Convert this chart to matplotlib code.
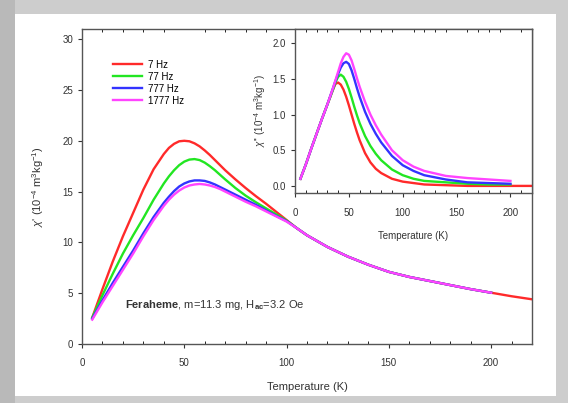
import matplotlib
matplotlib.use("Agg")
import matplotlib.pyplot as plt
from matplotlib.patches import Rectangle
from matplotlib.ticker import MultipleLocator, FormatStrFormatter

plt.rcParams["font.family"] = ["Liberation Sans", "DejaVu Sans"]
plt.rcParams["mathtext.fontset"] = "custom"
plt.rcParams["mathtext.rm"] = "Liberation Sans"
plt.rcParams["mathtext.it"] = "Liberation Sans:italic"
plt.rcParams["mathtext.bf"] = "Liberation Sans:bold"

# Main panel: chi' vs temperature
T_main = [5, 10, 15, 20, 25, 30, 35, 40, 42.5, 45, 47.5, 50, 52.5, 55, 57.5, 60,
          62.5, 65, 67.5, 70, 75, 80, 85, 90, 95, 100]
chi1_7 = [2.6, 5.4, 8.1, 10.6, 12.9, 15.2, 17.2, 18.7, 19.3, 19.7, 19.95, 20.0, 19.95,
          19.75, 19.45, 19.05, 18.6, 18.1, 17.6, 17.1, 16.2, 15.35, 14.55, 13.8, 13.0, 12.2]
chi1_77 = [2.6, 4.8, 6.9, 8.9, 10.7, 12.4, 14.2, 15.8, 16.5, 17.1, 17.6, 17.95, 18.15,
           18.2, 18.1, 17.85, 17.5, 17.1, 16.65, 16.2, 15.35, 14.6, 13.95, 13.35, 12.75, 12.15]
chi1_777 = [2.5, 4.3, 6.0, 7.6, 9.2, 10.9, 12.5, 13.9, 14.5, 15.05, 15.5, 15.8, 16.0,
            16.1, 16.1, 16.05, 15.9, 15.7, 15.45, 15.2, 14.7, 14.2, 13.7, 13.15, 12.6, 12.1]
chi1_1777 = [2.4, 4.1, 5.7, 7.3, 8.9, 10.6, 12.2, 13.6, 14.2, 14.7, 15.1, 15.4, 15.6,
             15.7, 15.75, 15.7, 15.6, 15.45, 15.25, 15.0, 14.5, 14.0, 13.55, 13.05, 12.55, 12.05]
T_tail = [105, 110, 120, 130, 140, 150, 160, 170, 180, 190, 200]
chi1_tail = [11.4, 10.7, 9.55, 8.6, 7.8, 7.1, 6.6, 6.2, 5.8, 5.4, 5.05]
T_red_end = [210, 220]
chi1_red_end = [4.7, 4.4]

# Inset: chi'' vs temperature
T_in = [5, 10, 15, 20, 25, 30, 32.5, 35, 37.5, 40, 42.5, 45, 47.5, 50, 52.5, 55, 57.5,
        60, 65, 70, 75, 80, 90, 100, 110, 120, 140, 160, 180, 200]
chi2_7 = [0.10, 0.30, 0.52, 0.73, 0.94, 1.14, 1.24, 1.34, 1.43, 1.45, 1.42, 1.35, 1.25,
          1.13, 1.00, 0.87, 0.75, 0.64, 0.46, 0.33, 0.24, 0.18, 0.10, 0.06, 0.04, 0.02,
          0.01, 0.0, 0.0, 0.0]
chi2_77 = [0.10, 0.30, 0.52, 0.73, 0.94, 1.14, 1.24, 1.34, 1.45, 1.53, 1.56, 1.53, 1.46,
           1.36, 1.24, 1.11, 0.99, 0.88, 0.70, 0.56, 0.45, 0.36, 0.23, 0.15, 0.10, 0.07,
           0.05, 0.03, 0.02, 0.02]
chi2_777 = [0.10, 0.30, 0.52, 0.73, 0.94, 1.14, 1.25, 1.36, 1.47, 1.57, 1.66, 1.72, 1.74,
            1.71, 1.62, 1.50, 1.37, 1.25, 1.04, 0.87, 0.73, 0.61, 0.42, 0.29, 0.21, 0.15,
            0.09, 0.05, 0.04, 0.03]
chi2_1777 = [0.10, 0.30, 0.52, 0.73, 0.94, 1.14, 1.25, 1.36, 1.48, 1.60, 1.72, 1.81, 1.86,
             1.84, 1.76, 1.64, 1.51, 1.39, 1.18, 1.00, 0.85, 0.72, 0.50, 0.36, 0.27, 0.21,
             0.14, 0.11, 0.09, 0.07]
T_in_red_end = [210, 220]
chi2_red_end = [0.0, 0.0]

labels = ["7 Hz", "77 Hz", "777 Hz", "1777 Hz"]
colors = ["#ff2a2a", "#22e622", "#3333ff", "#ff44ff"]

fig = plt.figure(figsize=(5.68, 4.03), dpi=100)
fig.patch.set_facecolor("#cdcdcd")
fig.patches.append(Rectangle((0, 0), 0.026, 1, transform=fig.transFigure,
                             facecolor="#b9b9b9", edgecolor="none", zorder=-2))
fig.patches.append(Rectangle((0.026, 0.017), 0.953, 0.948, transform=fig.transFigure,
                             facecolor="white", edgecolor="none", zorder=-1))

ax = fig.add_axes([0.1444, 0.1464, 0.7922, 0.7816])
main_series = [chi1_7, chi1_77, chi1_777, chi1_1777]
for i, vals in enumerate(main_series):
    xs = T_main + T_tail
    ys = vals + chi1_tail
    if i == 0:
        xs = xs + T_red_end
        ys = ys + chi1_red_end
    ax.plot(xs, ys, color=colors[i], lw=1.7, label=labels[i])

ax.set_xlim(0, 220)
ax.set_ylim(0, 31)
ax.xaxis.set_major_locator(MultipleLocator(50))
ax.xaxis.set_minor_locator(MultipleLocator(10))
ax.yaxis.set_major_locator(MultipleLocator(5))
ax.tick_params(axis="x", which="major", direction="out", length=3, labelsize=7, colors="#333333", pad=7)
ax.tick_params(axis="x", which="minor", direction="in", length=2.5, top=True, bottom=True)
ax.tick_params(axis="y", which="major", direction="out", length=3, labelsize=7, colors="#333333")
for s in ax.spines.values():
    s.set_color("#555555")
    s.set_linewidth(1.0)
ax.set_xlabel("Temperature (K)", fontsize=8, color="#333333", labelpad=10)
ax.set_ylabel(r"$\chi$' (10$^{-4}$ m$^3$kg$^{-1}$)", fontsize=8, color="#333333", labelpad=12)
ax.legend(loc="upper left", bbox_to_anchor=(0.05, 0.93), frameon=False, fontsize=7,
          handlelength=3.0, labelspacing=0.2, handletextpad=0.6)
ax.text(0.095, 0.115, r"$\bf{Feraheme}$, m=11.3 mg, H$_{\bf{ac}}$=3.2 Oe",
        transform=ax.transAxes, fontsize=8, color="#333333")

ins = fig.add_axes([0.5194, 0.521, 0.4172, 0.407])
inset_series = [chi2_7, chi2_77, chi2_777, chi2_1777]
for i, vals in enumerate(inset_series):
    xs = T_in
    ys = vals
    if i == 0:
        xs = xs + T_in_red_end
        ys = ys + chi2_red_end
    ins.plot(xs, ys, color=colors[i], lw=1.7)
ins.set_xlim(0, 220)
ins.set_ylim(-0.1, 2.2)
ins.xaxis.set_major_locator(MultipleLocator(50))
ins.xaxis.set_minor_locator(MultipleLocator(10))
ins.yaxis.set_major_locator(MultipleLocator(0.5))
ins.yaxis.set_major_formatter(FormatStrFormatter("%.1f"))
ins.tick_params(axis="x", which="major", direction="out", length=3, labelsize=7, colors="#333333", pad=8)
ins.tick_params(axis="x", which="minor", direction="in", length=2.5, top=True, bottom=True)
ins.tick_params(axis="y", which="major", direction="out", length=3, labelsize=7, colors="#333333")
for s in ins.spines.values():
    s.set_color("#555555")
    s.set_linewidth(1.0)
ins.set_xlabel("Temperature (K)", fontsize=7, color="#333333", labelpad=9)
ins.set_ylabel(r"$\chi$'' (10$^{-4}$ m$^3$kg$^{-1}$)", fontsize=7, color="#333333", labelpad=3)

fig.savefig("out.png", dpi=100, facecolor=fig.get_facecolor())
